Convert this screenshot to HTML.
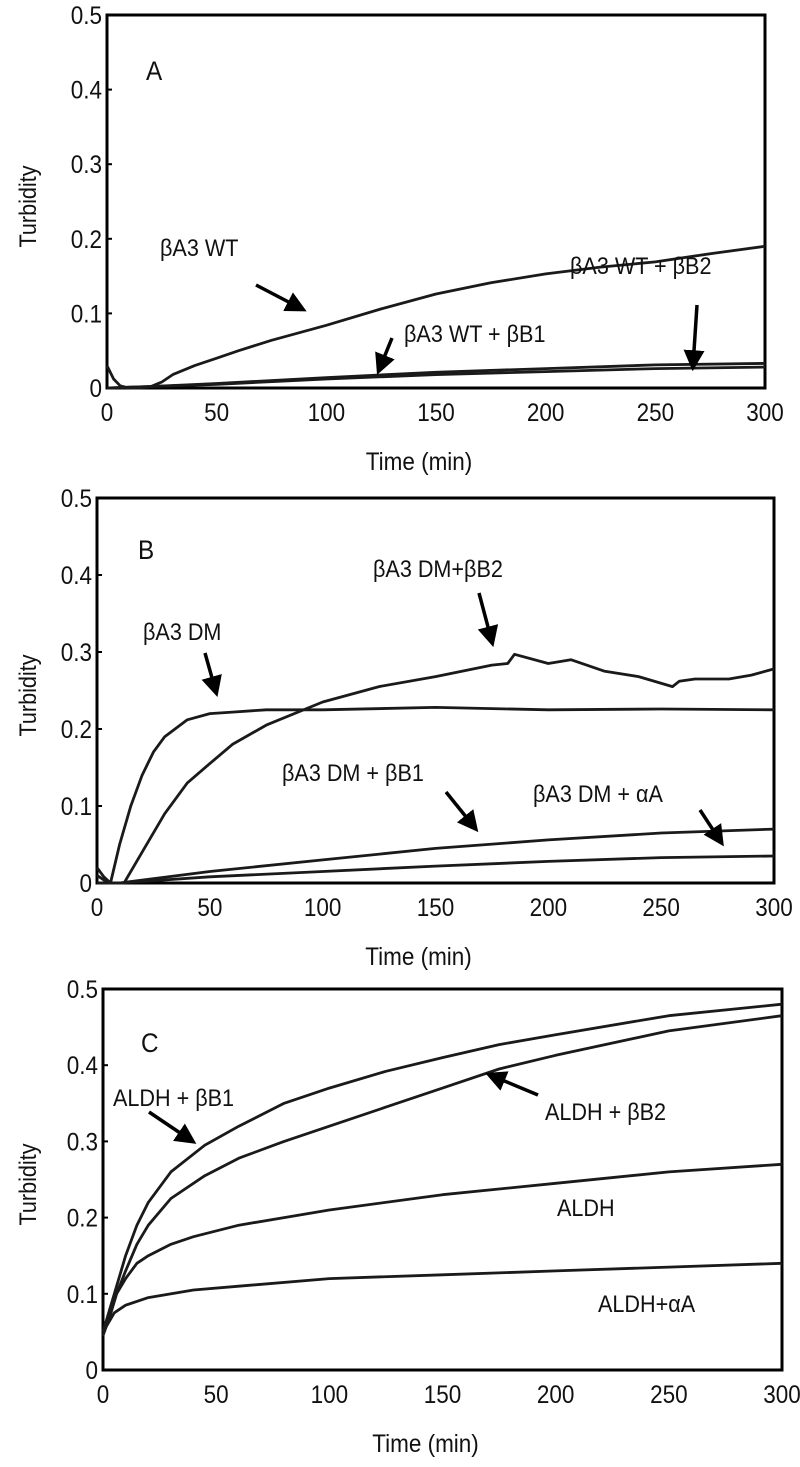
<!DOCTYPE html>
<html><head><meta charset="utf-8"><style>
html,body{margin:0;padding:0;background:#fff}
svg{display:block}
text{font-family:"Liberation Sans",Arial,sans-serif;fill:#111}
</style></head><body>
<svg id="fig" width="800" height="1467" viewBox="0 0 800 1467">
<defs><marker id="ah" markerWidth="6" markerHeight="6" refX="4.5" refY="3" orient="auto" markerUnits="strokeWidth"><path d="M0,0 L6,3 L0,6 Z" fill="#000"/></marker></defs>
</svg>
<script>
// ---- data ----
const xTicks = [0,50,100,150,200,250,300];
const yTicks = [0,0.1,0.2,0.3,0.4,0.5];
const yTickLabels = ["0","0.1","0.2","0.3","0.4","0.5"];

const aWT_t = [0,3,6,10,15,20,25,30,40,50,60,75,100,125,150,175,200,225,250,275,300];
const aWT_v = [0.03,0.012,0.003,0.0,0.0,0.002,0.008,0.018,0.03,0.04,0.05,0.064,0.084,0.106,0.126,0.141,0.153,0.162,0.169,0.18,0.19];
const aB1_t = [0,20,50,100,150,200,250,300];
const aB1_v = [0.0,0.002,0.005,0.012,0.018,0.022,0.026,0.028];
const aB2_t = [0,20,50,100,150,200,250,300];
const aB2_v = [0.0,0.002,0.006,0.014,0.021,0.026,0.031,0.033];

const bDM_t = [0,3,6,10,15,20,25,30,40,50,60,75,100,150,200,250,300];
const bDM_v = [0.02,0.008,0.0,0.05,0.1,0.14,0.17,0.19,0.212,0.22,0.222,0.225,0.225,0.228,0.225,0.226,0.225];
const bB2_t = [0,5,12,20,30,40,50,60,75,100,125,150,175,182,185,200,210,225,240,255,258,265,280,290,300];
const bB2_v = [0.01,0.0,0.0,0.04,0.09,0.13,0.155,0.18,0.205,0.235,0.255,0.268,0.283,0.285,0.297,0.285,0.29,0.275,0.268,0.255,0.262,0.265,0.265,0.27,0.278];
const bB1_t = [0,10,50,100,150,200,250,300];
const bB1_v = [0.0,0.0,0.015,0.03,0.045,0.056,0.065,0.07];
const bAA_t = [0,10,50,100,150,200,250,300];
const bAA_v = [0.0,0.0,0.008,0.015,0.022,0.028,0.033,0.035];

const cB1_t = [0,3,6,10,15,20,30,45,60,80,100,125,150,175,200,250,300];
const cB1_v = [0.05,0.08,0.11,0.15,0.19,0.22,0.26,0.295,0.32,0.35,0.37,0.392,0.41,0.427,0.44,0.465,0.48];
const cB2_t = [0,3,6,10,15,20,30,45,60,80,100,125,150,175,200,250,300];
const cB2_v = [0.045,0.07,0.1,0.13,0.165,0.19,0.225,0.255,0.278,0.3,0.32,0.345,0.37,0.395,0.413,0.445,0.465];
const cAL_t = [0,3,6,10,15,20,30,40,60,80,100,150,200,250,300];
const cAL_v = [0.05,0.075,0.1,0.12,0.14,0.15,0.165,0.175,0.19,0.2,0.21,0.23,0.245,0.26,0.27];
const cAA_t = [0,3,5,10,20,40,60,100,150,200,250,300];
const cAA_v = [0.05,0.065,0.075,0.085,0.095,0.105,0.11,0.12,0.125,0.13,0.135,0.14];

// ---- drawing ----
const NS="http://www.w3.org/2000/svg";
const svg=document.getElementById('fig');
const SX=0.9;
function mk(tag,attrs,parent){const e=document.createElementNS(NS,tag);for(const k in attrs)e.setAttribute(k,attrs[k]);(parent||svg).appendChild(e);return e;}
function txt(g,x,y,s,size,anchor,rot){
  const tr=`translate(${x} ${y})`+(rot?` rotate(${rot})`:'')+` scale(${SX} 1)`;
  const t=mk('text',{x:0,y:0,'font-size':size,'text-anchor':anchor||'start',transform:tr},g);
  t.textContent=s;
  return t;
}

function panel(name,L,R,T,B){
  const g=mk('g',{});
  
  
  const sx=t=>L+(R-L)*t/300, sy=v=>B-(B-T)*v/0.5;
  const frame=mk('rect',{x:L,y:T,width:R-L,height:B-T,fill:'none',stroke:'#000','stroke-width':3},g);
  
  
  yTicks.forEach((v,i)=>{
    mk('line',{x1:L,x2:L+5,y1:sy(v),y2:sy(v),stroke:'#000','stroke-width':2},g);
    const t=txt(g,L-5,sy(v)+9,yTickLabels[i],25,'end');
    
    
  });
  xTicks.forEach(v=>{
    const t=txt(g,sx(v),B+33,String(v),25,'middle');
    
    
  });
  const xt=txt(g,(L+R)/2-17,B+82,'Time (min)',25,'middle');
  
  
  const yy=(T+B)/2+5;
  const yt=txt(g,36,yy,'Turbidity',24,'middle',-90);
  
  
  return {g,sx,sy};
}
function series(p,ts,vs,name){
  const d=ts.map((t,i)=>(i?'L':'M')+p.sx(t).toFixed(1)+','+p.sy(vs[i]).toFixed(1)).join(' ');
  const e=mk('path',{d,fill:'none',stroke:'#1a1a1a','stroke-width':2.8,'stroke-linejoin':'round'},p.g);
  
  
}
function label(g,x,y,s,name,size){
  const t=txt(g,x,y,s,size||24);
  
  
}
function arrow(g,x1,y1,x2,y2,name){
  const e=mk('line',{x1,y1,x2,y2,stroke:'#000','stroke-width':3.5,'marker-end':'url(#ah)'},g);
  
  
}

const A=panel('a',107,765,15,388);
series(A,aWT_t,aWT_v,'series-ba3-wt');
series(A,aB1_t,aB1_v,'series-ba3-wt-bb1');
series(A,aB2_t,aB2_v,'series-ba3-wt-bb2');
label(A.g,146,80,'A','panel-letter-a',27);
label(A.g,160,256,'βA3 WT','label-ba3-wt');
arrow(A.g,256,285,302,309,'arrow-ba3-wt');
label(A.g,404,342,'βA3 WT + βB1','label-ba3-wt-bb1');
arrow(A.g,392,338,379,370,'arrow-ba3-wt-bb1');
label(A.g,570,274,'βA3 WT + βB2','label-ba3-wt-bb2');
arrow(A.g,697,305,693,366,'arrow-ba3-wt-bb2');

const Bp=panel('b',97,774,498,883);
series(Bp,bDM_t,bDM_v,'series-ba3-dm');
series(Bp,bB2_t,bB2_v,'series-ba3-dm-bb2');
series(Bp,bB1_t,bB1_v,'series-ba3-dm-bb1');
series(Bp,bAA_t,bAA_v,'series-ba3-dm-aa');
label(Bp.g,138,559,'B','panel-letter-b',27);
label(Bp.g,143,640,'βA3 DM','label-ba3-dm');
arrow(Bp.g,205,653,216,692,'arrow-ba3-dm');
label(Bp.g,373,577,'βA3 DM+βB2','label-ba3-dm-bb2');
arrow(Bp.g,479,593,492,642,'arrow-ba3-dm-bb2');
label(Bp.g,282,781,'βA3 DM + βB1','label-ba3-dm-bb1');
arrow(Bp.g,446,792,475,828,'arrow-ba3-dm-bb1');
label(Bp.g,533,802,'βA3 DM + αA','label-ba3-dm-aa');
arrow(Bp.g,700,810,721,842,'arrow-ba3-dm-aa');

const C=panel('c',103,782,989,1370);
series(C,cB1_t,cB1_v,'series-aldh-bb1');
series(C,cB2_t,cB2_v,'series-aldh-bb2');
series(C,cAL_t,cAL_v,'series-aldh');
series(C,cAA_t,cAA_v,'series-aldh-aa');
label(C.g,141,1052,'C','panel-letter-c',27);
label(C.g,113,1106,'ALDH + βB1','label-aldh-bb1');
arrow(C.g,149,1112,192,1141,'arrow-aldh-bb1');
label(C.g,545,1120,'ALDH + βB2','label-aldh-bb2');
arrow(C.g,538,1095,490,1075,'arrow-aldh-bb2');
label(C.g,557,1216,'ALDH','label-aldh');
label(C.g,598,1312,'ALDH+αA','label-aldh-aa');
</script>
</body></html>
